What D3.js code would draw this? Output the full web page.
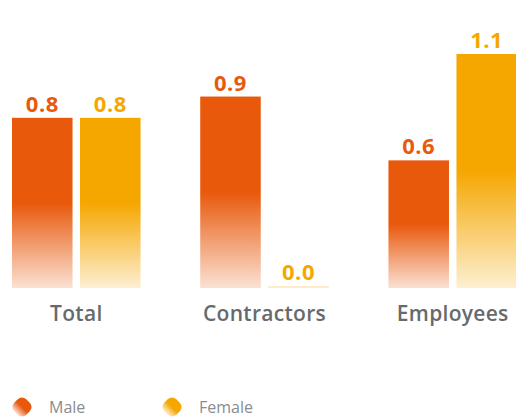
<!DOCTYPE html>
<html>
<head>
<meta charset="utf-8">
<script src="https://cdn.jsdelivr.net/npm/d3@7/dist/d3.min.js"></script>
<style>
  html, body { margin: 0; padding: 0; background: #fff; }
  svg { display: block; }
</style>
</head>
<body>
<svg id="chart" width="516" height="417"></svg>
<script>
// Groups, series and their values
const categories = ["Total", "Contractors", "Employees"];
const seriesNames = ["Male", "Female"];
const maleValues = [0.8, 0.9, 0.6];
const femaleValues = [0.8, 0.0, 1.1];
const seriesColors = ["#E8590C", "#F5A700"];

const width = 516, height = 417;
const baseline = 288;
const fontFamily = "'Open Sans', 'Noto Sans', sans-serif";

const svg = d3.select("#chart");
const defs = svg.append("defs");

// Vertical fade: solid in the upper half, pale toward the base
seriesColors.forEach((c, i) => {
  const g = defs.append("linearGradient")
    .attr("id", "grad" + i)
    .attr("x1", 0).attr("y1", 0).attr("x2", 0).attr("y2", 1);
  g.append("stop").attr("offset", "0").attr("stop-color", c).attr("stop-opacity", 1);
  g.append("stop").attr("offset", "0.5").attr("stop-color", c).attr("stop-opacity", 1);
  g.append("stop").attr("offset", "1").attr("stop-color", c).attr("stop-opacity", 0.18);
});

const data = categories.map((cat, i) => ({
  cat,
  values: [maleValues[i], femaleValues[i]]
}));

const x0 = d3.scaleBand().domain(categories).range([12, 517]).paddingInner(0.317).paddingOuter(0);
const x1 = d3.scaleBand().domain(seriesNames).range([0, x0.bandwidth()]).paddingInner(0.11);
const y = d3.scaleLinear().domain([0, 1.1]).range([baseline, baseline - 234]);

const groups = svg.append("g").selectAll("g.group")
  .data(data)
  .join("g")
  .attr("class", "group")
  .attr("transform", d => `translate(${x0(d.cat)},0)`);

const bars = groups.selectAll("g.bar")
  .data(d => d.values.map((v, i) => ({ v, i, name: seriesNames[i] })))
  .join("g")
  .attr("class", "bar");

bars.append("rect")
  .attr("x", d => x1(d.name))
  .attr("width", x1.bandwidth())
  .attr("y", d => d.v > 0 ? y(d.v) : baseline - 2)
  .attr("height", d => d.v > 0 ? baseline - y(d.v) : 2)
  .attr("fill", d => d.v > 0 ? `url(#grad${d.i})` : seriesColors[d.i])
  .attr("fill-opacity", d => d.v > 0 ? 1 : 0.22);

bars.append("text")
  .attr("x", d => x1(d.name) + x1.bandwidth() / 2)
  .attr("y", d => (d.v > 0 ? y(d.v) : baseline - 2) - 6)
  .attr("text-anchor", "middle")
  .attr("font-family", fontFamily)
  .attr("font-weight", 700)
  .attr("font-size", 22)
  .attr("letter-spacing", 0.5)
  .attr("fill", d => seriesColors[d.i])
  .text(d => d3.format(".1f")(d.v));

// Category axis labels
const xAxis = d3.axisBottom(x0).tickSize(0).tickPadding(0);
const axisG = svg.append("g").attr("transform", `translate(0,${baseline + 18})`).call(xAxis);
axisG.select(".domain").remove();
axisG.selectAll("text")
  .attr("font-family", fontFamily)
  .attr("font-weight", 600)
  .attr("font-size", 21)
  .attr("letter-spacing", 0.3)
  .attr("fill", "#666a6d");

// Legend
const legendX = [22, 172];
const legend = svg.append("g").selectAll("g.legend")
  .data(seriesNames)
  .join("g")
  .attr("class", "legend")
  .attr("transform", (d, i) => `translate(${legendX[i]},407)`);

legend.append("rect")
  .attr("x", -8.5).attr("y", -8.5)
  .attr("width", 17).attr("height", 17)
  .attr("rx", 6).attr("ry", 6)
  .attr("transform", "rotate(45)")
  .attr("fill", (d, i) => `url(#grad${i})`);

legend.append("text")
  .attr("x", 27)
  .attr("y", 6)
  .attr("font-family", fontFamily)
  .attr("font-size", 16)
  .attr("fill", "#8a8c8e")
  .text(d => d);
</script>
</body>
</html>
